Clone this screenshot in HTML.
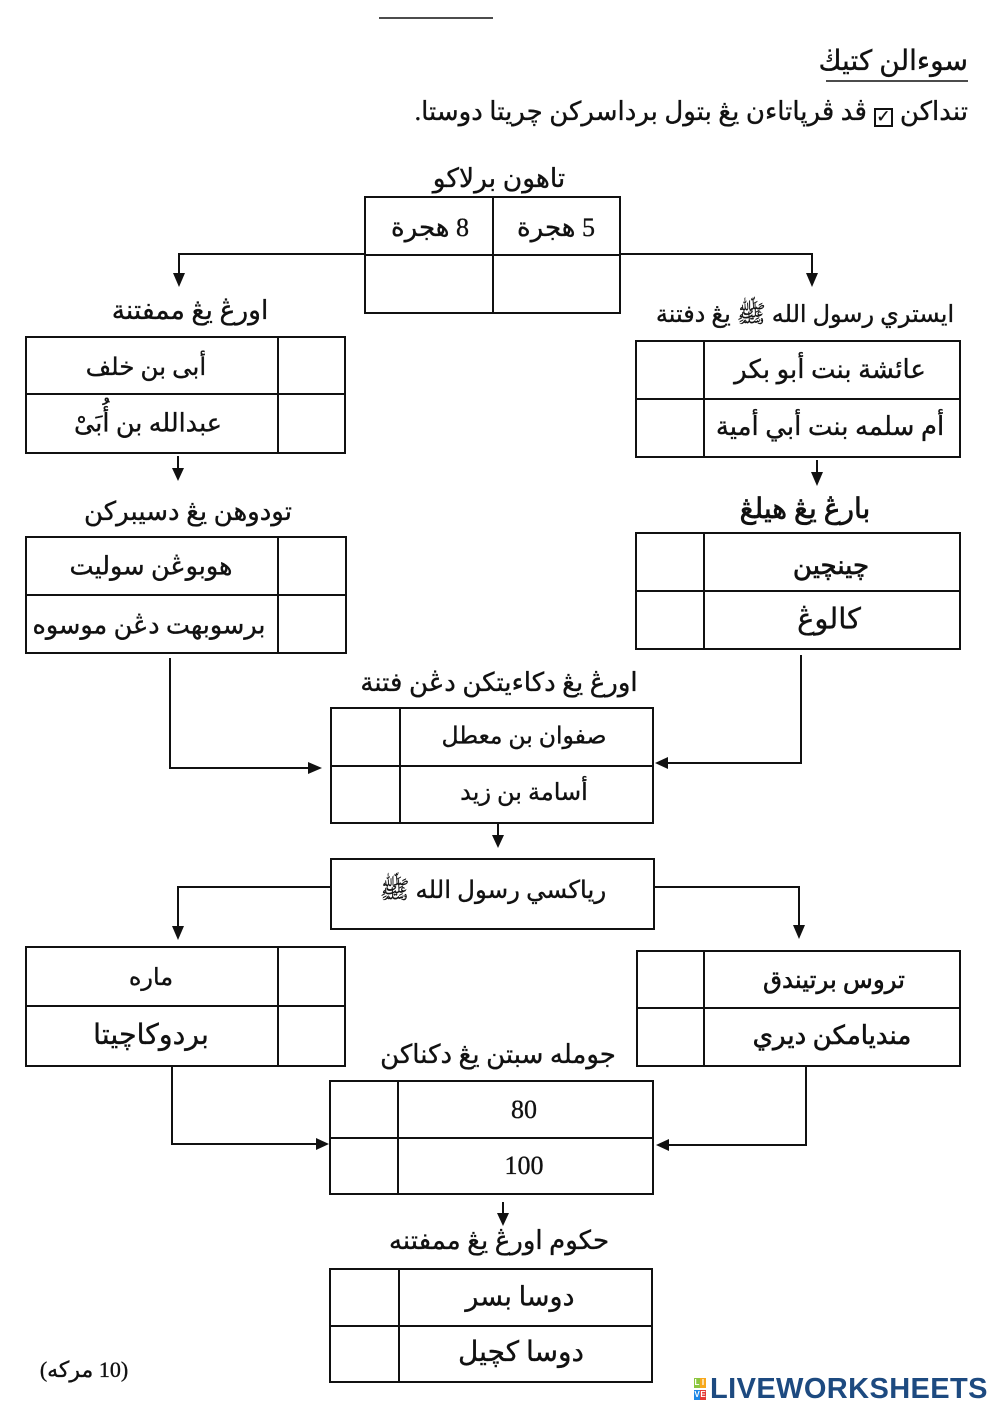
<!DOCTYPE html>
<html>
<head>
<meta charset="utf-8">
<style>
  html,body{margin:0;padding:0;background:#fff;}
  #wrap{position:relative;width:1000px;height:1414px;overflow:hidden;background:#fff;}
  svg{position:absolute;left:0;top:0;}
  .t{position:absolute;width:400px;text-align:center;direction:rtl;white-space:nowrap;line-height:1;
     font-family:"Liberation Serif","DejaVu Sans",sans-serif;font-size:26px;color:#111;transform:translateY(-50%);
     -webkit-text-stroke:0.35px #111;}
  .r{position:absolute;direction:rtl;white-space:nowrap;line-height:1;
     font-family:"Liberation Serif","DejaVu Sans",sans-serif;font-size:26px;color:#111;transform:translateY(-50%);
     -webkit-text-stroke:0.35px #111;}
  .cb{display:inline-block;width:15px;height:15px;border:2px solid #111;vertical-align:-2px;margin:0 7px;position:relative;font-family:"DejaVu Sans",sans-serif;font-size:17px;line-height:15px;text-align:center;font-weight:bold;}
  .sq{position:absolute;width:6px;height:10px;font:bold 8px "Liberation Sans",sans-serif;color:#fff;text-align:center;line-height:10px;}
  .lw{position:absolute;left:710px;top:1373px;font:bold 29px "Liberation Sans",sans-serif;color:#1d4a80;letter-spacing:0.4px;line-height:32px;}
</style>
</head>
<body>
<div id="wrap">
<svg width="1000" height="1414" viewBox="0 0 1000 1414">
  <g stroke="#111" stroke-width="2" fill="none">
    <line x1="379" y1="18" x2="493" y2="18" stroke-width="1.5"/>
    <line x1="826" y1="81" x2="968" y2="81" stroke-width="1.5"/>

    <rect x="365" y="197" width="255" height="116"/>
    <line x1="493" y1="197" x2="493" y2="313"/>
    <line x1="365" y1="255" x2="620" y2="255"/>
    <polyline points="179,276 179,254 365,254"/>
    <polyline points="620,254 812,254 812,276"/>

    <rect x="26" y="337" width="319" height="116"/>
    <line x1="278" y1="337" x2="278" y2="453"/>
    <line x1="26" y1="394" x2="345" y2="394"/>
    <rect x="636" y="341" width="324" height="116"/>
    <line x1="704" y1="341" x2="704" y2="457"/>
    <line x1="636" y1="399" x2="960" y2="399"/>

    <line x1="178" y1="456" x2="178" y2="472"/>
    <line x1="817" y1="460" x2="817" y2="476"/>

    <rect x="26" y="537" width="320" height="116"/>
    <line x1="278" y1="537" x2="278" y2="653"/>
    <line x1="26" y1="595" x2="346" y2="595"/>
    <rect x="636" y="533" width="324" height="116"/>
    <line x1="704" y1="533" x2="704" y2="649"/>
    <line x1="636" y1="591" x2="960" y2="591"/>

    <polyline points="170,658 170,768 311,768"/>
    <polyline points="801,655 801,763 665,763"/>

    <rect x="331" y="708" width="322" height="115"/>
    <line x1="400" y1="708" x2="400" y2="823"/>
    <line x1="331" y1="766" x2="653" y2="766"/>
    <line x1="498" y1="823" x2="498" y2="839"/>

    <rect x="331" y="859" width="323" height="70"/>
    <polyline points="331,887 178,887 178,930"/>
    <polyline points="654,887 799,887 799,929"/>

    <rect x="26" y="947" width="319" height="119"/>
    <line x1="278" y1="947" x2="278" y2="1066"/>
    <line x1="26" y1="1006" x2="345" y2="1006"/>
    <rect x="637" y="951" width="323" height="115"/>
    <line x1="704" y1="951" x2="704" y2="1066"/>
    <line x1="637" y1="1008" x2="960" y2="1008"/>

    <polyline points="172,1066 172,1144 319,1144"/>
    <polyline points="806,1066 806,1145 666,1145"/>

    <rect x="330" y="1081" width="323" height="113"/>
    <line x1="398" y1="1081" x2="398" y2="1194"/>
    <line x1="330" y1="1138" x2="653" y2="1138"/>
    <line x1="503" y1="1202" x2="503" y2="1217"/>

    <rect x="330" y="1269" width="322" height="113"/>
    <line x1="399" y1="1269" x2="399" y2="1382"/>
    <line x1="330" y1="1326" x2="652" y2="1326"/>
  </g>
  <g fill="#111" stroke="none">
    <polygon points="173,273 185,273 179,287"/>
    <polygon points="806,273 818,273 812,287"/>
    <polygon points="172,468 184,468 178,481"/>
    <polygon points="811,472 823,472 817,486"/>
    <polygon points="492,835 504,835 498,848"/>
    <polygon points="172,926 184,926 178,940"/>
    <polygon points="793,925 805,925 799,939"/>
    <polygon points="497,1213 509,1213 503,1226"/>
    <polygon points="308,762 308,774 322,768"/>
    <polygon points="316,1138 316,1150 329,1144"/>
    <polygon points="668,757 668,769 655,763"/>
    <polygon points="669,1139 669,1151 656,1145"/>
  </g>
</svg>

<div class="r" style="right:32px;top:62px;font-size:28px;">سوءالن كتيڬ</div>
<div class="r" style="right:32px;top:113px;font-size:26px;">تنداكن<span class="cb">✓</span>ڤد ڤرڽاتاءن يڠ بتول برداسركن چريتا دوستا.</div>

<div class="t" style="left:299px;top:178px;font-size:26.5px;">تاهون برلاكو</div>
<div class="t" style="left:230px;top:228px;">8 هجرة</div>
<div class="t" style="left:356px;top:228px;">5 هجرة</div>

<div class="t" style="left:-10px;top:310px;font-size:26.5px;">اورڠ يڠ ممفتنة</div>
<div class="t" style="left:605px;top:315px;font-size:24px;">ايستري رسول الله ﷺ يڠ دفتنة</div>

<div class="t" style="left:-54px;top:368px;font-size:24.5px;">أبى بن خلف</div>
<div class="t" style="left:-52px;top:423px;font-size:25.5px;">عبدالله بن أُبَىْ</div>
<div class="t" style="left:630px;top:370px;">عائشة بنت أبو بكر</div>
<div class="t" style="left:630px;top:427px;">أم سلمه بنت أبي أمية</div>

<div class="t" style="left:-12px;top:512px;">تودوهن يڠ دسيبركن</div>
<div class="t" style="left:605px;top:510px;font-size:28px;-webkit-text-stroke:0.7px #111;">بارڠ يڠ هيلڠ</div>

<div class="t" style="left:-49px;top:566px;font-size:25.5px;">هوبوڠن سوليت</div>
<div class="t" style="left:-51px;top:625px;font-size:25.5px;">برسوبهت دڠن موسوه</div>
<div class="t" style="left:631px;top:566px;font-size:26px;-webkit-text-stroke:0.7px #111;">چينچين</div>
<div class="t" style="left:629px;top:620px;font-size:29px;">كالوڠ</div>

<div class="t" style="left:299px;top:683px;">اورڠ يڠ دكاءيتكن دڠن فتنة</div>
<div class="t" style="left:324px;top:737px;font-size:23.5px;">صفوان بن معطل</div>
<div class="t" style="left:324px;top:793px;font-size:24px;">أسامة بن زيد</div>

<div class="t" style="left:293px;top:891px;font-size:24.5px;">رياكسي رسول الله ﷺ</div>

<div class="t" style="left:-49px;top:978px;font-size:24px;">ماره</div>
<div class="t" style="left:-49px;top:1036px;font-size:28.5px;">بردوكاچيتا</div>
<div class="t" style="left:634px;top:981px;font-size:24.5px;-webkit-text-stroke:0.6px #111;">تروس برتيندق</div>
<div class="t" style="left:632px;top:1036px;font-size:26px;-webkit-text-stroke:0.6px #111;">منديامكن ديري</div>

<div class="t" style="left:298px;top:1055px;">جومله سبتن يڠ دكناكن</div>
<div class="t" style="left:324px;top:1110px;font-size:26px;">80</div>
<div class="t" style="left:324px;top:1166px;font-size:26px;">100</div>

<div class="t" style="left:299px;top:1241px;">حكوم اورڠ يڠ ممفتنه</div>
<div class="t" style="left:320px;top:1297px;font-size:27px;">دوسا بسر</div>
<div class="t" style="left:321px;top:1353px;font-size:28px;">دوسا كچيل</div>

<div class="t" style="left:-116px;top:1370px;font-size:22px;">(10 مركه)</div>

<div class="sq" style="left:694px;top:1378px;background:#8cc63f;">L</div>
<div class="sq" style="left:700px;top:1378px;background:#f7a81b;">I</div>
<div class="sq" style="left:694px;top:1390px;background:#1e88e5;">V</div>
<div class="sq" style="left:700px;top:1390px;background:#e53935;">E</div>
<div class="lw">LIVEWORKSHEETS</div>
</div>
</body>
</html>
